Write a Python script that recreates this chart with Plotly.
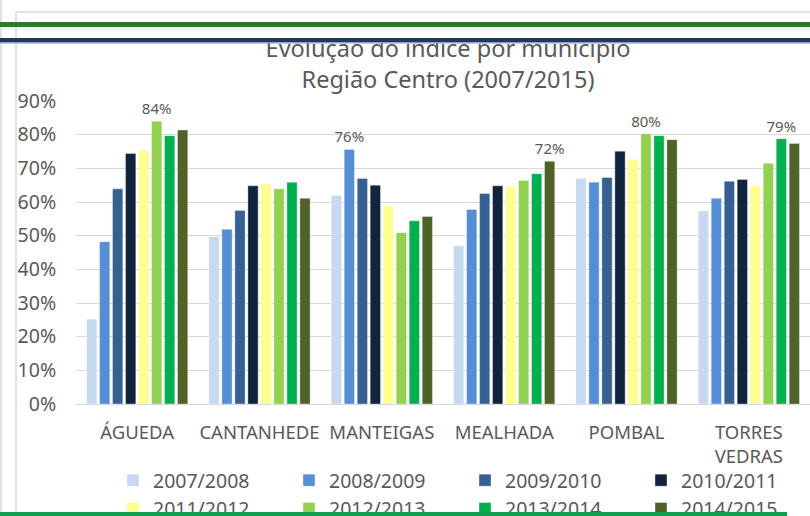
import plotly.graph_objects as go

# ---------------- data ----------------
municipios = ["ÁGUEDA", "CANTANHEDE", "MANTEIGAS", "MEALHADA", "POMBAL", "TORRES<br>VEDRAS"]
anos = ["2007/2008", "2008/2009", "2009/2010", "2010/2011",
        "2011/2012", "2012/2013", "2013/2014", "2014/2015"]

v_2007_2008 = [0.252, 0.497, 0.619, 0.470, 0.670, 0.574]
v_2008_2009 = [0.482, 0.519, 0.756, 0.578, 0.659, 0.611]
v_2009_2010 = [0.639, 0.575, 0.670, 0.625, 0.673, 0.662]
v_2010_2011 = [0.744, 0.648, 0.650, 0.648, 0.751, 0.667]
v_2011_2012 = [0.754, 0.653, 0.588, 0.646, 0.727, 0.647]
v_2012_2013 = [0.840, 0.639, 0.509, 0.664, 0.803, 0.715]
v_2013_2014 = [0.797, 0.659, 0.544, 0.684, 0.797, 0.788]
v_2014_2015 = [0.814, 0.611, 0.557, 0.721, 0.785, 0.774]

series = [v_2007_2008, v_2008_2009, v_2009_2010, v_2010_2011,
          v_2011_2012, v_2012_2013, v_2013_2014, v_2014_2015]

cores = ["#C6D9F1", "#558ED5", "#376092", "#10243E",
         "#FFFF8F", "#92D050", "#00B050", "#4F6228"]

# which bar carries a data label in each group
rotulos = {"ÁGUEDA": "2012/2013", "MANTEIGAS": "2008/2009", "MEALHADA": "2014/2015",
           "POMBAL": "2012/2013", "TORRES<br>VEDRAS": "2013/2014"}

titulo = "Evolução do índice por município<br>Região Centro (2007/2015)"
y_ticks = [0, 0.1, 0.2, 0.3, 0.4, 0.5, 0.6, 0.7, 0.8, 0.9]

# ---------------- figure ----------------
FONT = "Noto Sans, Open Sans, sans-serif"
GREY = "#595959"
W, H = 810, 516
ML, MR, MT, MB = 76, 0, 101, 112

fig = go.Figure()
for ano, vals, cor in zip(anos, series, cores):
    txt = [f"{v*100:.0f}%" if rotulos.get(m) == ano else "" for m, v in zip(municipios, vals)]
    fig.add_trace(go.Bar(
        name=ano, x=municipios, y=vals,
        marker=dict(color=cor, line=dict(color="rgba(255,255,255,0.6)", width=0.6)),
        text=txt, textposition="outside", cliponaxis=False, constraintext="none",
        textfont=dict(family=FONT, size=15, color=GREY),
        hoverinfo="x+y+name",
    ))

pw = W - ML - MR
ph = H - MT - MB


def px_x(p):
    return (p - ML) / pw


def px_y(p):
    return (H - MB - p) / ph


shapes = []


def line(x0, y0, x1, y1, color, width):
    shapes.append(dict(type="line", xref="paper", yref="paper",
                       x0=px_x(x0), y0=px_y(y0), x1=px_x(x1), y1=px_y(y1),
                       line=dict(color=color, width=width), layer="above"))


def rect(x0, y0, x1, y1, color):
    shapes.append(dict(type="rect", xref="paper", yref="paper",
                       x0=px_x(x0), y0=px_y(y0), x1=px_x(x1), y1=px_y(y1),
                       line=dict(width=0), fillcolor=color, layer="above"))


# frame lines
line(1, 0, 1, H, "#D9D9D9", 1.5)
line(16, 12, 16, H, "#D9D9D9", 1.5)
line(16, 12, W, 12, "#D9D9D9", 1.5)
# decorative bands
rect(0, 22, W, 27, "#267F27")
rect(0, 38, W, 42, "#1F3864")
rect(0, 42, W, 43.5, "#8EA0BC")
rect(0, 512, 787, 516, "#0E9E50")

fig.update_layout(
    width=W, height=H,
    margin=dict(l=ML, r=MR, t=MT, b=MB, pad=0, autoexpand=False),
    paper_bgcolor="white", plot_bgcolor="white",
    barmode="group", bargap=0.15, bargroupgap=0.21,
    font=dict(family=FONT, color=GREY),
    title=dict(text=titulo, x=448 / W, xanchor="center", xref="container",
               y=1 - 57 / H, yanchor="top", yref="container",
               font=dict(family=FONT, size=23.5, color=GREY), automargin=False),
    xaxis=dict(showgrid=False, showline=False, zeroline=False, automargin=False,
               ticks="outside", ticklen=12, tickcolor="rgba(0,0,0,0)",
               tickfont=dict(family=FONT, size=18.5, color=GREY)),
    yaxis=dict(range=[0, 0.9], tickvals=y_ticks, tickformat=".0%", automargin=False,
               showgrid=True, gridcolor="#D9D9D9", gridwidth=1,
               zeroline=True, zerolinecolor="#D9D9D9", zerolinewidth=1,
               showline=False, ticks="outside", ticklen=15, tickcolor="rgba(0,0,0,0)",
               tickfont=dict(family=FONT, size=19.5, color=GREY)),
    legend=dict(orientation="h", x=px_x(113), xanchor="left", y=px_y(461), yanchor="top",
                entrywidth=131, entrywidthmode="pixels", itemwidth=30,
                font=dict(family=FONT, size=19.5, color=GREY), bgcolor="rgba(0,0,0,0)"),
    shapes=shapes,
    showlegend=True,
)

post = """
(function(){
  document.documentElement.style.margin = '0';
  document.documentElement.style.padding = '0';
  document.documentElement.style.overflow = 'hidden';
  document.body.style.margin = '0';
  document.body.style.padding = '0';
  document.body.style.overflow = 'hidden';
  var gd = document.getElementById('{plot_id}');
  function fix(){
    var la = gd.querySelector('.layer-above');
    if (la && la.parentNode) { la.parentNode.appendChild(la); }
  }
  fix();
  if (gd && gd.on) { gd.on('plotly_afterplot', fix); }
  setTimeout(fix, 50);
})();
"""

fig.write_html("out.html", post_script=post, config={"displayModeBar": False})
